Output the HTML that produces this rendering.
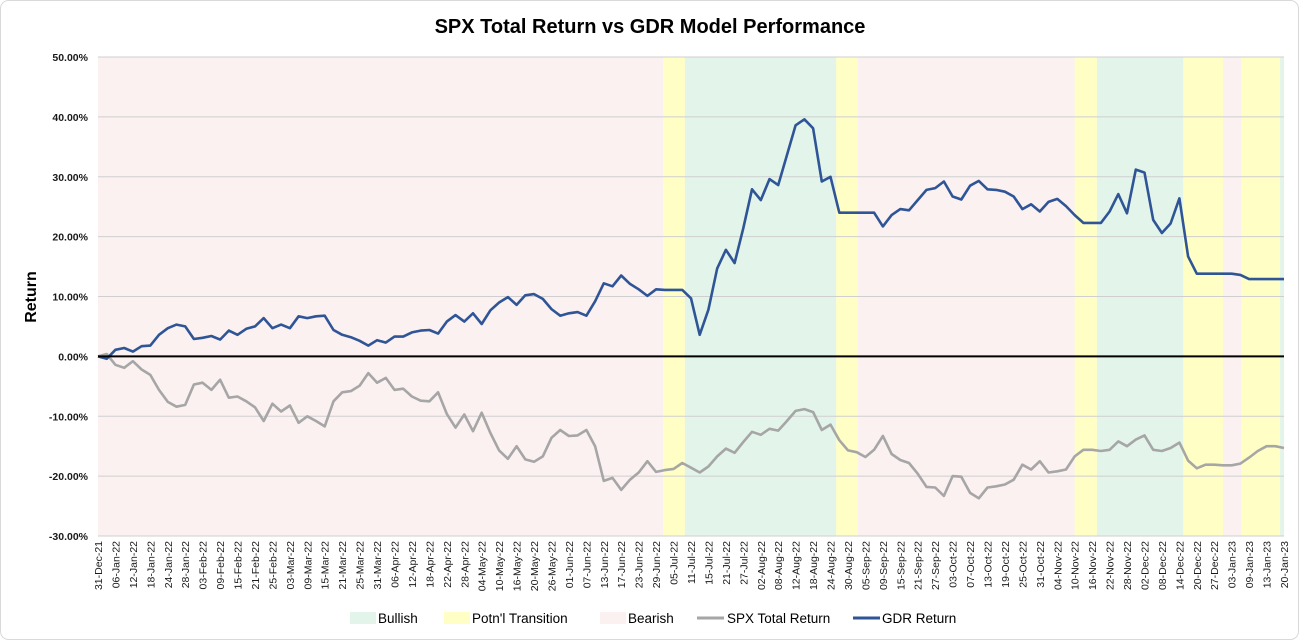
<!DOCTYPE html>
<html><head><meta charset="utf-8"><style>
html,body{margin:0;padding:0;background:#fff;}
svg{display:block;font-family:"Liberation Sans",sans-serif;}
</style></head><body>
<svg id="chart" width="1300" height="641" viewBox="0 0 1300 641" xmlns="http://www.w3.org/2000/svg">
<rect x="0.5" y="0.5" width="1298" height="639" rx="8" fill="#fff" stroke="#d9d9d9"/>
<text x="650" y="33" text-anchor="middle" font-size="20" font-weight="bold" fill="#000">SPX Total Return vs GDR Model Performance</text>
<text transform="translate(36,297) rotate(-90)" text-anchor="middle" font-size="16" font-weight="bold" fill="#000">Return</text>
<g id="bands"></g>
<g id="grid"></g>
<g id="yticks"></g>
<g id="xticks"></g>
<g id="series"></g>
<g font-size="13.5" fill="#000">
  <rect x="350" y="612" width="26" height="12" fill="#e3f5ea"/>
  <text x="378" y="623">Bullish</text>
  <rect x="444" y="612" width="26" height="12" fill="#ffffc5"/>
  <text x="472" y="623">Potn'l Transition</text>
  <rect x="600" y="612" width="26" height="12" fill="#fbf1f1"/>
  <text x="628" y="623">Bearish</text>
  <line x1="697" y1="618" x2="724" y2="618" stroke="#a6a6a6" stroke-width="3"/>
  <text x="727" y="623">SPX Total Return</text>
  <line x1="853" y1="618" x2="880" y2="618" stroke="#2f5597" stroke-width="3"/>
  <text x="882" y="623">GDR Return</text>
</g>
</svg>
<script>
const xLabels = ["31-Dec-21","06-Jan-22","12-Jan-22","18-Jan-22","24-Jan-22","28-Jan-22","03-Feb-22","09-Feb-22","15-Feb-22","21-Feb-22","25-Feb-22","03-Mar-22","09-Mar-22","15-Mar-22","21-Mar-22","25-Mar-22","31-Mar-22","06-Apr-22","12-Apr-22","18-Apr-22","22-Apr-22","28-Apr-22","04-May-22","10-May-22","16-May-22","20-May-22","26-May-22","01-Jun-22","07-Jun-22","13-Jun-22","17-Jun-22","23-Jun-22","29-Jun-22","05-Jul-22","11-Jul-22","15-Jul-22","21-Jul-22","27-Jul-22","02-Aug-22","08-Aug-22","12-Aug-22","18-Aug-22","24-Aug-22","30-Aug-22","05-Sep-22","09-Sep-22","15-Sep-22","21-Sep-22","27-Sep-22","03-Oct-22","07-Oct-22","13-Oct-22","19-Oct-22","25-Oct-22","31-Oct-22","04-Nov-22","10-Nov-22","16-Nov-22","22-Nov-22","28-Nov-22","02-Dec-22","08-Dec-22","14-Dec-22","20-Dec-22","27-Dec-22","03-Jan-23","09-Jan-23","13-Jan-23","20-Jan-23"];
const yTicks = [50,40,30,20,10,0,-10,-20,-30];
// values sampled every 2 trading days (percent)
const gdrReturn = [0,-0.4,1.1,1.4,0.8,1.7,1.8,3.6,4.7,5.3,5.0,2.9,3.1,3.4,2.8,4.3,3.6,4.6,5.0,6.4,4.7,5.3,4.7,6.7,6.4,6.7,6.8,4.4,3.6,3.2,2.6,1.8,2.7,2.3,3.3,
3.3,4.0,4.3,4.4,3.8,5.8,6.9,5.8,7.2,5.4,7.7,9.0,9.9,8.6,10.2,10.4,9.6,7.9,6.8,7.2,7.4,6.8,9.2,12.2,11.7,13.5,12.1,11.2,10.1,11.2,11.1,11.1,
11.1,9.7,3.6,7.8,14.7,17.8,15.6,21.4,27.9,26.1,29.6,28.6,33.6,38.6,39.6,38.1,29.2,30.0,24.0,24.0,24.0,24.0,24.0,21.7,23.6,24.6,24.4,26.1,27.8,28.1,29.2,26.7,26.2,28.5,
29.3,27.9,27.8,27.5,26.7,24.6,25.4,24.2,25.8,26.3,25.1,23.6,22.3,22.3,22.3,24.2,27.1,23.9,31.2,30.7,22.8,20.6,22.2,26.4,16.7,13.8,13.8,13.8,13.8,13.8,13.6,12.9,12.9,12.9,12.9,12.9];
const spxReturn = [0,0.4,-1.4,-1.9,-0.8,-2.2,-3.1,-5.6,-7.6,-8.4,-8.1,-4.7,-4.4,-5.6,-3.9,-6.9,-6.7,-7.5,-8.5,-10.8,-7.9,-9.2,-8.2,-11.1,-10.0,-10.8,-11.7,-7.5,-6.0,-5.8,-4.9,-2.8,-4.4,-3.6,-5.6,
-5.4,-6.7,-7.4,-7.5,-6.0,-9.6,-11.9,-9.7,-12.5,-9.4,-12.8,-15.7,-17.1,-15.0,-17.2,-17.6,-16.7,-13.6,-12.3,-13.3,-13.2,-12.3,-15.0,-20.8,-20.3,-22.3,-20.6,-19.4,-17.5,-19.3,-19.0,-18.8,
-17.8,-18.6,-19.4,-18.4,-16.7,-15.4,-16.1,-14.3,-12.6,-13.1,-12.1,-12.4,-10.8,-9.1,-8.8,-9.3,-12.3,-11.4,-14.0,-15.7,-16.0,-16.8,-15.6,-13.3,-16.3,-17.3,-17.8,-19.6,-21.8,-21.9,-23.3,-20.0,-20.1,-22.8,
-23.7,-21.9,-21.7,-21.4,-20.6,-18.1,-18.9,-17.5,-19.4,-19.2,-18.9,-16.7,-15.6,-15.6,-15.8,-15.6,-14.2,-15.0,-13.9,-13.2,-15.6,-15.8,-15.3,-14.4,-17.4,-18.7,-18.1,-18.1,-18.2,-18.2,-17.9,-16.9,-15.8,-15.0,-15.0,-15.3];
// regime periods in trading-day index
const regimeStart = [129.6,134.6,169.3,224,229.1,248.9,262.2,271.1];
const regimeEnd   = [134.6,169.3,174.3,229.1,248.9,258,271.1,272];
const regimeType  = ["transition","bullish","transition","transition","bullish","transition","transition","bullish"];

const NS="http://www.w3.org/2000/svg";
const X0=98, X1=1284, DAYS=272, STEP=2;
const Y_TOP=57, Y_BOT=536, VMAX=50, VMIN=-30;
const xDay = d => X0 + d*(X1-X0)/DAYS;
const yVal = v => Y_BOT - (v-VMIN)*(Y_BOT-Y_TOP)/(VMAX-VMIN);
const colors={bullish:"#e3f5ea",transition:"#ffffc5",bearish:"#fbf1f1"};
function mk(tag,attrs,parent){const e=document.createElementNS(NS,tag);for(const k in attrs)e.setAttribute(k,attrs[k]);parent.appendChild(e);return e;}

const bands=document.getElementById('bands');
let r=mk('rect',{x:X0,y:Y_TOP,width:X1-X0,height:Y_BOT-Y_TOP,fill:colors.bearish},bands);


regimeStart.forEach((s,i)=>{
  const b=mk('rect',{x:xDay(s),y:Y_TOP,width:xDay(regimeEnd[i])-xDay(s),height:Y_BOT-Y_TOP,fill:colors[regimeType[i]]},bands);
  
  
});

const grid=document.getElementById('grid'), yt=document.getElementById('yticks');
yTicks.forEach(v=>{
  if(v!==0){const l=mk('line',{x1:X0,x2:X1,y1:yVal(v),y2:yVal(v),stroke:"#cfcfcf","stroke-width":1},grid);
  
  }
  const t=mk('text',{x:88,y:yVal(v)+4,"text-anchor":"end","font-size":"10.5","font-weight":"bold",fill:"#1a1a1a"},yt);
  t.textContent=v.toFixed(2)+"%";
  
  
});

const xt=document.getElementById('xticks');
xLabels.forEach((lab,j)=>{
  const x=xDay(j*4);
  const t=mk('text',{transform:`translate(${x+4},541) rotate(-90)`,"text-anchor":"end","font-size":"10.5",fill:"#1a1a1a"},xt);
  t.textContent=lab;
  
  
});

const ser=document.getElementById('series');
function line(data,color,name){
  const pts=data.map((v,i)=>xDay(i*STEP).toFixed(1)+","+yVal(v).toFixed(1)).join(" ");
  const p=mk('polyline',{points:pts,fill:"none",stroke:color,"stroke-width":2.6,"stroke-linejoin":"round"},ser);
  
  
}
line(spxReturn,"#a6a6a6","spx-total-return-line");
line(gdrReturn,"#2f5597","gdr-return-line");
const z=mk('line',{x1:X0,x2:X1,y1:yVal(0),y2:yVal(0),stroke:"#000","stroke-width":2},ser);


</script>
</body></html>
